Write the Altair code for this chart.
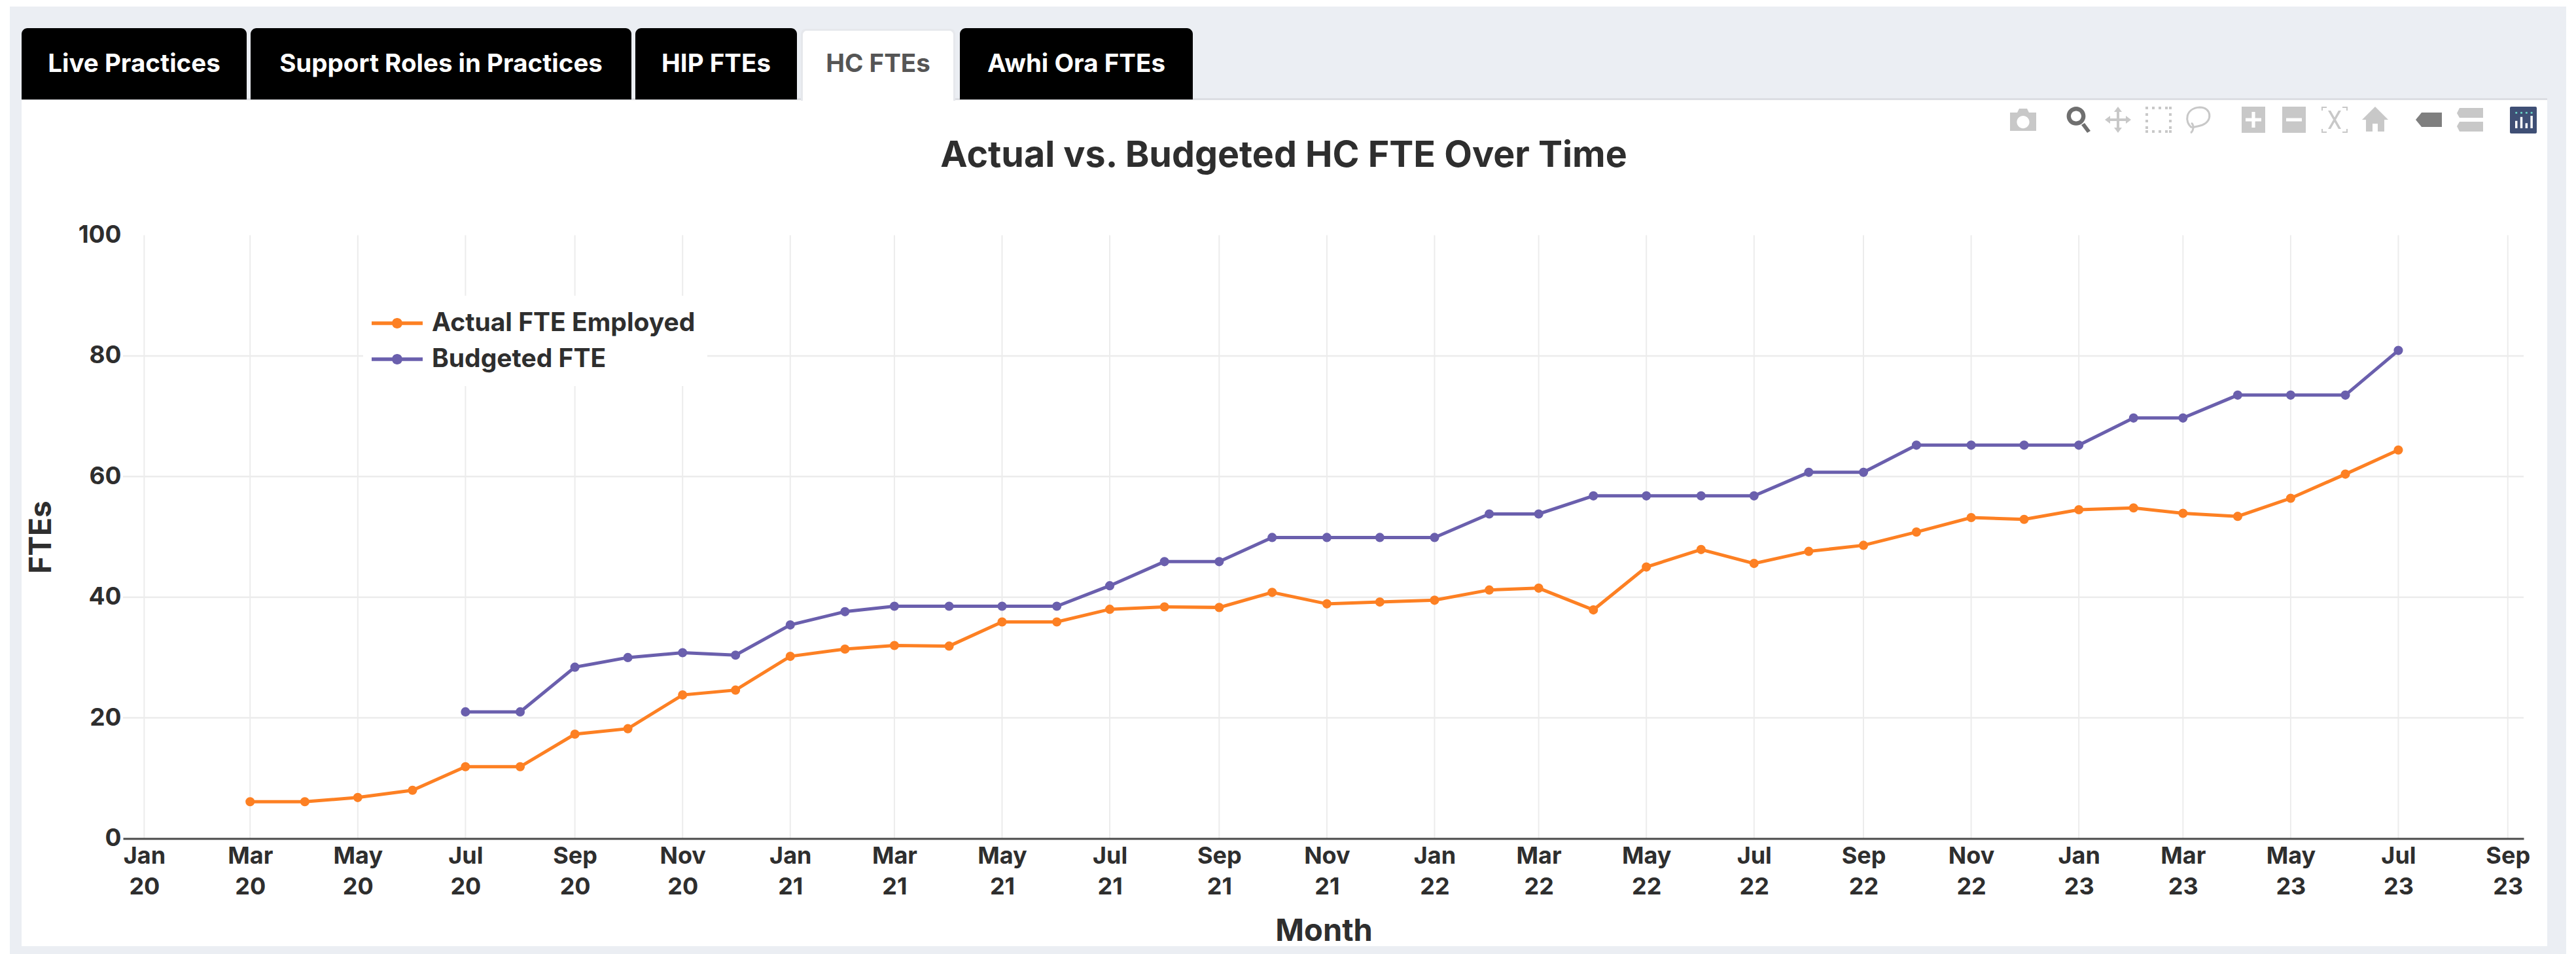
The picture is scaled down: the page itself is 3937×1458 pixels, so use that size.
import altair as alt
import pandas as pd

months = pd.date_range("2020-03-01", "2023-07-01", freq="MS").strftime("%Y-%m-%d").tolist()
actual = [6.1, 6.1, 6.8, 8.0, 11.9, 11.9, 17.3, 18.2, 23.8, 24.6,
          30.2, 31.4, 32.0, 31.9, 35.9, 35.9, 38.0, 38.4, 38.3, 40.8, 38.9, 39.2,
          39.5, 41.2, 41.5, 37.9, 45.0, 47.9, 45.6, 47.6, 48.6, 50.8, 53.2, 52.9,
          54.5, 54.8, 53.9, 53.4, 56.4, 60.4, 64.4]
budgeted = [None, None, None, None, 21.0, 21.0, 28.4, 30.0, 30.8, 30.4,
            35.4, 37.6, 38.5, 38.5, 38.5, 38.5, 41.9, 45.9, 45.9, 49.9, 49.9, 49.9,
            49.9, 53.8, 53.8, 56.8, 56.8, 56.8, 56.8, 60.7, 60.7, 65.2, 65.2, 65.2,
            65.2, 69.7, 69.7, 73.5, 73.5, 73.5, 80.9]
series_names = ["Actual FTE Employed", "Budgeted FTE"]
series_colors = ["#fd8023", "#6a5fad"]
tick_dates = pd.date_range("2020-01-01", "2023-09-01", freq="2MS")
y_ticks = [0, 20, 40, 60, 80, 100]
y_grid = [20, 40, 60, 80]
tabs = [("Live Practices", 33, 377, False), ("Support Roles in Practices", 383, 965, False),
        ("HIP FTEs", 971, 1218, False), ("HC FTEs", 1224, 1460, True), ("Awhi Ora FTEs", 1467, 1823, False)]
chart_title = "Actual vs. Budgeted HC FTE Over Time"

FONT = "Inter"
INK = "#2e2e2e"
OX, OY = 188.0, 359.5      # page position of the plot area's corner
W, H = 3669, 922
one = alt.Data(values=[{"a": 1}])


def box(x0, y0, x1, y1, color, **kw):
    return alt.Chart(one).mark_rect(color=color, **kw).encode(
        x=alt.value(x0 - OX), x2=alt.value(x1 - OX), y=alt.value(y0 - OY), y2=alt.value(y1 - OY))


def label(s, x, y, color, size):
    return alt.Chart(one).mark_text(font=FONT, fontWeight="bold", fontSize=size, color=color,
                                    align="center", baseline="middle").encode(
        x=alt.value(x - OX), y=alt.value(y - OY), text=alt.value(s))


def icon(path, x, color="#c8c8c8", y=183, size=1600, filled=True):
    kw = {"filled": True, "opacity": 1, "strokeWidth": 0} if filled else {"filled": False, "opacity": 1, "strokeWidth": 3}
    return alt.Chart(one).mark_point(shape=path, size=size, color=color, **kw).encode(
        x=alt.value(x - OX), y=alt.value(y - OY))


deco = [box(15, 10, 3922, 1458, "#ebeef3"), box(33, 150, 3893, 1446, "white"), box(33, 150, 3893, 153, "#dcdee3")]
for name, x0, x1, active in tabs:
    if active:
        deco.append(box(x0, 44, x1, 154, "#e6e8ec", cornerRadiusTopLeft=8, cornerRadiusTopRight=8))
        deco.append(box(x0 + 3, 47, x1 - 3, 154, "white", cornerRadiusTopLeft=6, cornerRadiusTopRight=6))
    else:
        deco.append(box(x0, 43, x1, 152, "black", cornerRadiusTopLeft=9, cornerRadiusTopRight=9))
    deco.append(label(name, (x0 + x1) / 2, 98, "#555555" if active else "white", 38.5))
deco.append(label(chart_title, 1962, 238, INK, 55.5))

CAMERA = "M-1,-.55L-.45,-.55L-.3,-.85L.3,-.85L.45,-.55L1,-.55L1,.85L-1,.85ZM0,-.3A.48,.48 0 1 0 0,.66A.48,.48 0 1 0 0,-.3Z"
ZOOM = "M-.1,-1A.72,.72 0 1 1 -.1,.44A.72,.72 0 1 1 -.1,-1ZM-.1,-.68A.4,.4 0 1 0 -.1,.12A.4,.4 0 1 0 -.1,-.68ZM.3,.4L.55,.25L1,.85L.75,1Z"
PAN = "M0,-1L.3,-.6L.1,-.6L.1,-.1L.6,-.1L.6,-.3L1,0L.6,.3L.6,.1L.1,.1L.1,.6L.3,.6L0,1L-.3,.6L-.1,.6L-.1,.1L-.6,.1L-.6,.3L-1,0L-.6,-.3L-.6,-.1L-.1,-.1L-.1,-.6L-.3,-.6Z"
SELECT = "".join(f"M{x},{y}h.2v.2h-.2Z" for x, y in
                 [(-1, -1), (-.5, -1), (0, -1), (.5, -1), (.8, -1), (-1, -.5), (.8, -.5), (-1, 0), (.8, 0),
                  (-1, .5), (.8, .5), (-1, .8), (-.5, .8), (0, .8), (.5, .8), (.8, .8)])
LASSO = "M-.5,.6C-1.1,.2 -1,-.9 .1,-.95C1,-.95 1.1,.1 .3,.4C0,.5 -.3,.55 -.5,.6M-.55,.25C-.3,.4 -.4,.9 -.6,1"
PLUS = "M-.9,-1H.9V1H-.9ZM-.13,-.6V-.13H-.6V.13H-.13V.6H.13V.13H.6V-.13H.13V-.6Z"
MINUS = "M-.9,-1H.9V1H-.9ZM-.6,-.13V.13H.6V-.13Z"
AUTO = "M-1,-.7V-1H-.6V-.9H-.9V-.7ZM.6,-1H1V-.7H.9V-.9H.6ZM-1,.7H-.9V.9H-.6V1H-1ZM1,.7V1H.6V.9H.9V.7ZM-.5,-.7L-.3,-.7L.5,.7L.3,.7ZM.3,-.7L.5,-.7L-.3,.7L-.5,.7Z"
HOME = "M0,-1L1,0L.7,0L.7,.9L.2,.9L.2,.3L-.2,.3L-.2,.9L-.7,.9L-.7,0L-1,0Z"
SPIKE = "M-1,0L-.55,-.55H1V.55H-.55Z"
COMPARE = "M-.8,-.9H1V-.15H-.8L-1,-.5ZM-.8,.15H1V.9H-.8L-1,.5Z"
BARS = ("M-.75,.75V.1H-.55V.75ZM-.3,.75V-.25H-.1V.75ZM.15,.75V.3H.35V.75ZM.6,.75V-.35H.8V.75Z")
DOTS = "".join(f"M{x},-.7h.16v.16h-.16Z" for x in (-.73, -.28, .17, .62))

icons = [icon(CAMERA, 3092), icon(ZOOM, 3175, "#6f6f6f"), icon(PAN, 3237), icon(SELECT, 3299), icon(LASSO, 3360, filled=False),
         icon(PLUS, 3444), icon(MINUS, 3506), icon(AUTO, 3568), icon(HOME, 3630), icon(SPIKE, 3712, "#7f7f7f"),
         icon(COMPARE, 3775), box(3836, 163, 3877, 204, "#3f4f75", cornerRadius=2),
         icon(BARS, 3857, "white", size=1200), icon(DOTS, 3857, "#69d3c4", size=1200)]

rows = []
for m, a, b in zip(months, actual, budgeted):
    rows.append({"month": m, "series": series_names[0], "fte": a})
    if b is not None:
        rows.append({"month": m, "series": series_names[1], "fte": b})
df = pd.DataFrame(rows)

x_scale = alt.Scale(type="utc", domain=[pd.Timestamp("2019-12-20").value // 10**6,
                                        pd.Timestamp("2023-09-10").value // 10**6])
y_scale = alt.Scale(domain=[0, 100])
tick_ms = [int(t.value // 10**6) for t in tick_dates]

x_enc = alt.X("month:T", scale=x_scale,
              axis=alt.Axis(values=tick_ms, title="Month", tickSize=0, grid=False, zindex=1,
                            labelExpr="[utcFormat(datum.value,'%b'), utcFormat(datum.value,'%y')]",
                            labelLineHeight=47, labelPadding=10, labelFont=FONT, labelFontWeight="bold",
                            labelFontSize=36, labelColor=INK, titleFont=FONT, titleFontWeight="bold",
                            titleFontSize=47, titleColor=INK, titleX=1835, titleY=119, domainColor="#4a4a4a",
                            domainWidth=3, labelOverlap=False, labelFlush=False))
y_enc = alt.Y("fte:Q", scale=y_scale,
              axis=alt.Axis(values=y_ticks, title="FTEs", tickSize=0, domain=False, labelPadding=3, grid=False, zindex=1,
                            labelFont=FONT, labelFontWeight="bold", labelFontSize=37, labelColor=INK,
                            titleFont=FONT, titleFontWeight="bold", titleFontSize=46, titleColor=INK,
                            titlePadding=32))
grid_x = alt.Chart(pd.DataFrame({"month": tick_dates.strftime("%Y-%m-%d").tolist()})).mark_rule(
    color="#ececec", strokeWidth=2).encode(x=x_enc)
grid_y = alt.Chart(pd.DataFrame({"fte": y_grid})).mark_rule(color="#ececec", strokeWidth=2.5).encode(y=y_enc)
legend_box = box(555, 452, 1081, 590, "white")

color_scale = alt.Scale(domain=series_names, range=series_colors)
LEGEND_SYM = "M-1.56,-.11H1.56V.11H-1.56ZM0,-.32A.32,.32 0 1 1 0,.32A.32,.32 0 1 1 0,-.32Z"
legend = alt.Legend(title=None, orient="none", legendX=582 - OX, legendY=469 - OY, zindex=1,
                    symbolType=LEGEND_SYM, symbolSize=2500, symbolStrokeWidth=0, symbolOpacity=1,
                    symbolFillColor="#fd8023",
                    labelFont=FONT, labelFontWeight="bold", labelFontSize=39, labelColor=INK,
                    labelOffset=28, rowPadding=10, padding=0, labelLimit=600)
color_enc = alt.Color("series:N", scale=color_scale, sort=series_names, legend=legend)

lines = alt.Chart(df).mark_line(strokeWidth=5).encode(x=x_enc, y=y_enc, color=color_enc)
points = alt.Chart(df).mark_point(filled=True, size=200, opacity=1).encode(x=x_enc, y=y_enc, color=color_enc)

chart = alt.layer(*deco, *icons, grid_x, grid_y, legend_box, lines, points).properties(
    width=W, height=H,
    padding={"left": OX - 8, "top": OY - 8, "right": 3921 - W - (OX - 8), "bottom": 1450 - H - (OY - 8)},
    autosize=alt.AutoSizeParams(type="none"),
).configure_view(stroke=None).configure(background="white")

chart.save("out.html", embed_options={"renderer": "svg", "actions": False})
